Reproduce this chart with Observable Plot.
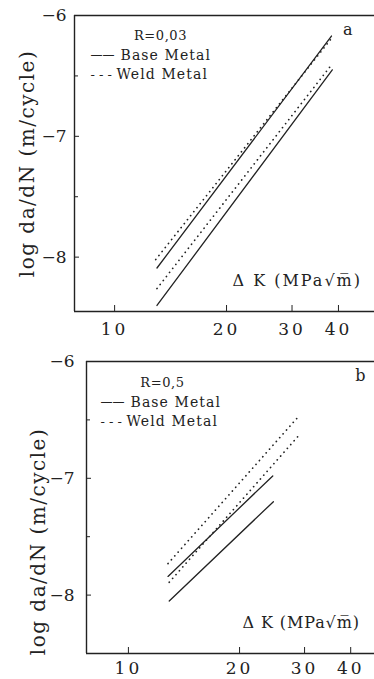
<!DOCTYPE html>
<html><head><meta charset="utf-8">
<script src="https://cdn.jsdelivr.net/npm/d3@7"></script>
<script src="https://cdn.jsdelivr.net/npm/@observablehq/plot@0.6"></script>
<style>
html,body{margin:0;padding:0;background:#fff;overflow:hidden;width:374px;height:679px}
#wrap{position:relative;width:374px;height:679px;overflow:hidden}
#wrap svg{position:absolute;left:0}
</style></head><body><div id="wrap"></div>
<script>
// ---- tick labels ----
const xTicks = [10, 20, 30, 40];
const yTicksMajor = [-6, -7, -8];
const yTicksMinor = [-6.5, -7.5];

// ---- panel a : R=0,03 (ΔK in MPa√m, log da/dN in m/cycle) ----
const aBaseUpperK   = [13.0, 38.3];  const aBaseUpperLog = [-8.09, -6.17];
const aBaseLowerK   = [13.0, 38.5];  const aBaseLowerLog = [-8.40, -6.45];
const aWeldUpperK   = [12.9, 38.3];  const aWeldUpperLog = [-8.02, -6.19];
const aWeldLowerK   = [13.0, 38.5];  const aWeldLowerLog = [-8.26, -6.40];

// ---- panel b : R=0,5 ----
const bBaseUpperK   = [12.8, 24.6];  const bBaseUpperLog = [-7.84, -6.98];
const bBaseLowerK   = [12.9, 24.7];  const bBaseLowerLog = [-8.05, -7.20];
const bWeldUpperK   = [12.8, 28.9];  const bWeldUpperLog = [-7.73, -6.47];
const bWeldLowerK   = [12.9, 29.0];  const bWeldLowerLog = [-7.89, -6.63];

const yLabel = "log da/dN (m/cycle)";
const xLabel = "\u0394 K (MPa\u221Am\u0305)";
const legendLabels = ["Base Metal", "Weld Metal"];

function rows(material, id, K, L) {
  return K.map((k, i) => ({material, id, K: k, logdadN: L[i]}));
}

const FONT = "DejaVu Serif";
const INK = "#222";

function panel(cfg) {
  const data = cfg.series;
  return Plot.plot({
    width: 374,
    height: cfg.height,
    marginLeft: cfg.marginLeft,
    marginRight: 0,
    marginTop: cfg.marginTop,
    marginBottom: cfg.marginBottom,
    style: {fontFamily: FONT, fontSize: "17px", color: INK, background: "transparent", overflow: "visible"},
    x: {type: "log", domain: cfg.xDomain},
    y: {domain: cfg.yDomain},
    marks: [
      Plot.ruleY([cfg.yDomain[1]], {stroke: INK, strokeWidth: 1.3}),
      Plot.ruleY([cfg.yDomain[0]], {stroke: INK, strokeWidth: 1.4}),
      Plot.ruleX([cfg.xDomain[0]], {stroke: INK, strokeWidth: 1.4}),
      Plot.axisX(xTicks, {anchor: "bottom", tickSize: -6, tickPadding: cfg.xPad, tickFormat: d => String(d),
        fontSize: 17, stroke: INK, fill: INK, label: null}),
      Plot.axisY(yTicksMajor, {anchor: "left", tickSize: -5, tickPadding: cfg.yPad, tickFormat: d => "\u2212" + Math.abs(d),
        fontSize: 17, stroke: INK, fill: INK, label: null}),
      Plot.axisY(yTicksMinor, {anchor: "left", tickSize: -4, tickFormat: () => "", stroke: INK, label: null}),
      Plot.line(data.filter(d => d.material === "Base Metal"), {x: "K", y: "logdadN", z: "id", stroke: INK, strokeWidth: 1.3}),
      Plot.line(data.filter(d => d.material === "Weld Metal"), {x: "K", y: "logdadN", z: "id", stroke: INK, strokeWidth: 1.7, strokeDasharray: "0.1,5", strokeLinecap: "round"}),
      Plot.text([yLabel], {frameAnchor: "left", textAnchor: "middle", rotate: -90, dx: cfg.yLabelDx, dy: cfg.yLabelDy, fontSize: 20, fill: INK}),
      Plot.text([xLabel], {frameAnchor: "bottom-left", textAnchor: "start", dx: cfg.xLabelDx, dy: -26, fontSize: 16, fill: INK}),
      Plot.text([cfg.letter], {frameAnchor: "top-right", dx: cfg.letterDx, dy: 8, fontSize: 16, fill: INK}),
      Plot.text([cfg.rLabel], {frameAnchor: "top-left", textAnchor: "middle", dx: cfg.rDx, dy: cfg.legDy - 3, fontSize: 13, fill: INK}),
      Plot.text(["\u2014\u2014"], {frameAnchor: "top-left", textAnchor: "start", dx: cfg.legDx, dy: cfg.legDy + 17, fontSize: 12, fill: INK}),
      Plot.text(["- - -"], {frameAnchor: "top-left", textAnchor: "start", dx: cfg.legDx, dy: cfg.legDy + 36, fontSize: 13, fill: INK}),
      Plot.text([legendLabels[0]], {frameAnchor: "top-left", textAnchor: "start", dx: cfg.legDx + 30, dy: cfg.legDy + 17, fontSize: 14, fill: INK}),
      Plot.text([legendLabels[1]], {frameAnchor: "top-left", textAnchor: "start", dx: cfg.legDx + 26, dy: cfg.legDy + 36, fontSize: 14, fill: INK})
    ]
  });
}

const seriesA = [
  ...rows("Base Metal", "a-base-1", aBaseUpperK, aBaseUpperLog),
  ...rows("Base Metal", "a-base-2", aBaseLowerK, aBaseLowerLog),
  ...rows("Weld Metal", "a-weld-1", aWeldUpperK, aWeldUpperLog),
  ...rows("Weld Metal", "a-weld-2", aWeldLowerK, aWeldLowerLog)
];
const seriesB = [
  ...rows("Base Metal", "b-base-1", bBaseUpperK, bBaseUpperLog),
  ...rows("Base Metal", "b-base-2", bBaseLowerK, bBaseLowerLog),
  ...rows("Weld Metal", "b-weld-1", bWeldUpperK, bWeldUpperLog),
  ...rows("Weld Metal", "b-weld-2", bWeldLowerK, bWeldLowerLog)
];

const pa = panel({
  series: seriesA, height: 340, marginLeft: 74, marginTop: 15, marginBottom: 29,
  xDomain: [7.8, 50], yDomain: [-8.45, -6], xPad: 17, yPad: 13,
  yLabelDx: -47, yLabelDy: 0, xLabelDx: 158, letter: "a", letterDx: -22,
  rLabel: "R=0,03", rDx: 86, legDx: 16, legDy: 18
});
const pb = panel({
  series: seriesB, height: 339, marginLeft: 86, marginTop: 21, marginBottom: 26,
  xDomain: [7.7, 46.4], yDomain: [-8.5, -6], xPad: 14, yPad: 17,
  yLabelDx: -48, yLabelDy: 34, xLabelDx: 156, letter: "b", letterDx: -9,
  rLabel: "R=0,5", rDx: 76, legDx: 14, legDy: 19
});
pa.style.top = "0px";
pb.style.top = "340px";
const wrap = document.getElementById("wrap");
wrap.appendChild(pa);
wrap.appendChild(pb);

// letter spacing (typewriter-like spacing of the scanned figure)
function spaceText(svg, xLabelSpacing) {
  d3.select(svg).selectAll("text").each(function() {
    const t = this.textContent;
    let ls = null;
    if (t === yLabel) ls = "1.5px";
    else if (t === xLabel) ls = xLabelSpacing;
    else if (legendLabels.includes(t)) ls = "1.1px";
    else if (t.startsWith("R=")) ls = "0.6px";
    else if (xTicks.map(String).includes(t)) ls = "3px";
    if (ls) this.style.letterSpacing = ls;
  });
}
spaceText(pa, "2px");
spaceText(pb, "0.9px");
</script>
</body></html>
